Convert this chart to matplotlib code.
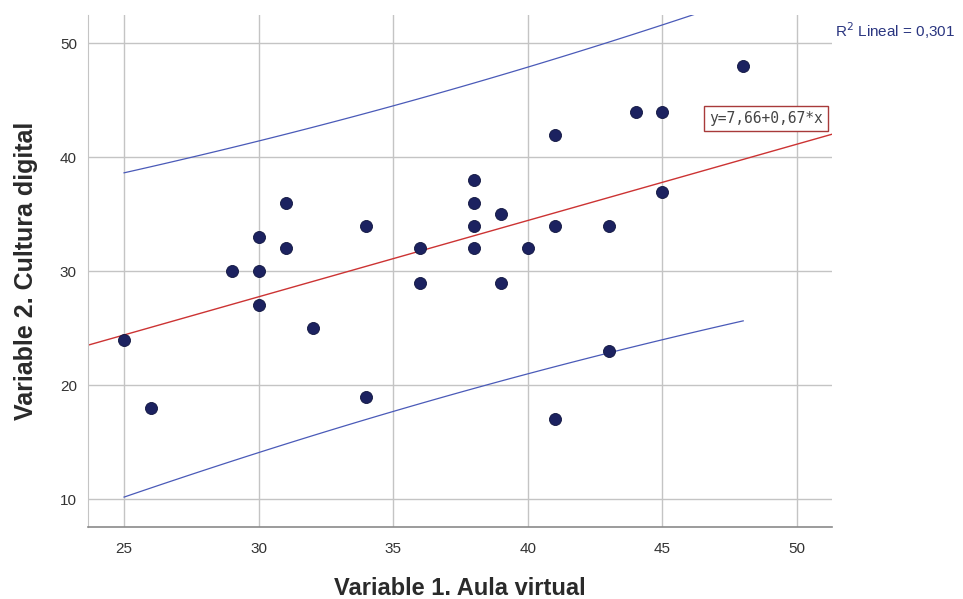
import numpy as np
import matplotlib
matplotlib.use("Agg")
import matplotlib.pyplot as plt

plt.rcParams['font.family'] = ['Liberation Sans', 'DejaVu Sans']

# Scores per participant
aula_virtual = [25, 26, 29, 30, 30, 30, 31, 31, 32, 34, 34, 36, 36, 38, 38, 38, 38,
                39, 39, 40, 41, 41, 41, 43, 43, 44, 45, 45, 48]
cultura_digital = [24, 18, 30, 33, 30, 27, 36, 32, 25, 34, 19, 32, 29, 38, 36, 34, 32,
                   35, 29, 32, 42, 34, 17, 34, 23, 44, 44, 37, 48]

intercept = 7.66
slope = 0.67
r2_text = "R$^2$ Lineal = 0,301"
eq_text = "y=7,66+0,67*x"

x_ticks = [25, 30, 35, 40, 45, 50]
y_ticks = [10, 20, 30, 40, 50]

x = np.array(aula_virtual, dtype=float)
y = np.array(cultura_digital, dtype=float)
n = len(x)

fig = plt.figure(figsize=(9.63, 5.99), dpi=100)
ax = fig.add_axes([0.0914, 0.1202, 0.7726, 0.8548])
ax.set_xlim(23.66, 51.3)
ax.set_ylim(7.55, 52.5)

ax.set_xticks(x_ticks)
ax.set_yticks(y_ticks)
ax.grid(True, color='#c4c4c4', linewidth=1.0)
ax.set_axisbelow(True)
for side in ('top', 'right'):
    ax.spines[side].set_visible(False)
ax.spines['left'].set_color('#c4c4c4')
ax.spines['bottom'].set_color('#8a8a8a')
ax.spines['bottom'].set_linewidth(1.2)
ax.tick_params(axis='both', length=0, labelsize=11, labelcolor='#333333')
ax.tick_params(axis='x', pad=11)
ax.tick_params(axis='y', pad=8)

# Fit line across the full axis
xl = np.linspace(23.66, 51.3, 50)
ax.plot(xl, intercept + slope * xl, color='#cc3333', linewidth=1.0, zorder=2)

# 95% individual prediction interval over the data range
resid = y - (intercept + slope * x)
s = np.sqrt(np.sum(resid ** 2) / (n - 2))
sxx = np.sum((x - x.mean()) ** 2)
t = 2.052
xp = np.linspace(x.min(), x.max(), 100)
half = t * s * np.sqrt(1 + 1 / n + (xp - x.mean()) ** 2 / sxx)
yp = intercept + slope * xp
ax.plot(xp, yp + half, color='#4a5ab8', linewidth=0.9, zorder=2)
ax.plot(xp, yp - half, color='#4a5ab8', linewidth=0.9, zorder=2)

ax.scatter(x, y, s=75, color='#1c2260', edgecolors='#10153f', linewidths=0.6, zorder=3)

ax.text(46.75, 43.4, eq_text, fontsize=10.5, color='#444444', ha='left', va='center',
        family=['DejaVu Sans Mono'],
        bbox=dict(boxstyle='square,pad=0.35', facecolor='white', edgecolor='#a83a3a', linewidth=1.0),
        zorder=4)

fig.text(0.867, 0.948, r2_text, fontsize=11, color='#2a3580', ha='left', va='center')

ax.set_xlabel("Variable 1. Aula virtual", fontsize=17, fontweight='bold', color='#2a2a2a')
ax.xaxis.set_label_coords(0.5, -0.098)
ax.set_ylabel("Variable 2. Cultura digital", fontsize=18, fontweight='bold', color='#2a2a2a', labelpad=16)

fig.savefig("out.png", dpi=100, facecolor='white')
